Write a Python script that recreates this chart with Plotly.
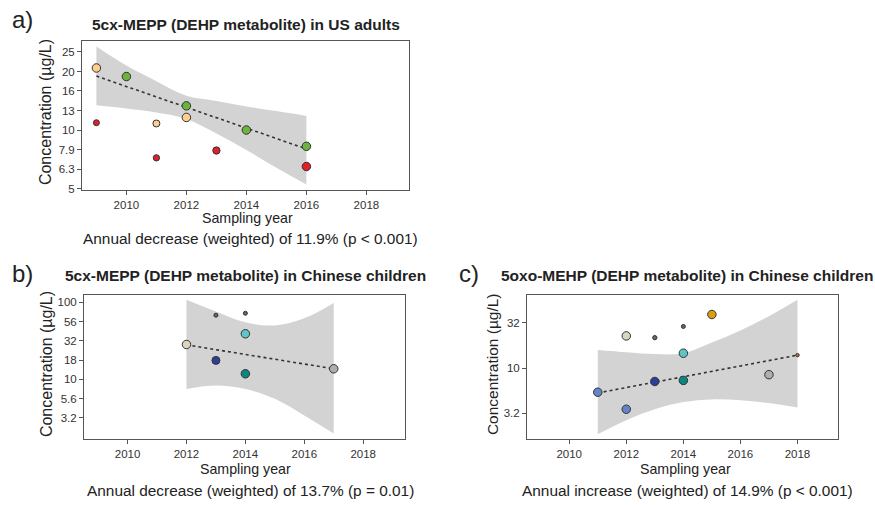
import plotly.graph_objects as go

W, H = 875, 505

# ---------------- DATA ----------------
# Panel a: 5cx-MEPP in US adults
a_years  = [2009, 2010, 2011, 2012, 2012, 2014, 2016, 2009, 2011, 2013, 2016]
a_values = [20.8, 18.8, 10.8, 11.6, 13.3, 10.0, 8.25, 10.9, 7.2, 7.85, 6.5]
a_study  = ["S1", "S2", "S1", "S1", "S2", "S2", "S2", "S3", "S3", "S3", "S3"]
a_trend_years  = [2009, 2016]
a_trend_values = [18.9, 8.0]
a_band_years = [2009, 2010, 2011, 2012, 2013, 2014, 2015, 2016]
a_band_upper = [26.8, 21.4, 17.8, 15.0, 14.1, 13.2, 12.5, 11.8]
a_band_lower = [13.4, 12.9, 12.3, 11.4, 9.6, 7.9, 6.4, 5.25]
a_ytick_vals = [5.012, 6.310, 7.943, 10.0, 12.59, 15.85, 19.95, 25.12]
a_ytick_text = ["5", "6.3", "7.9", "10", "13", "16", "20", "25"]

# Panel b: 5cx-MEPP in Chinese children
b_years  = [2012, 2013, 2014, 2013, 2014, 2014, 2017]
b_values = [28.3, 68.0, 72.0, 17.6, 39.0, 11.8, 13.7]
b_study  = ["C1", "C2", "C2", "C3", "C4", "C5", "C6"]
b_trend_years  = [2012, 2017]
b_trend_values = [28.0, 13.7]
b_band_years = [2012, 2013, 2014, 2015, 2016, 2017]
b_band_upper = [108, 76, 55, 50, 62, 98]
b_band_lower = [7.5, 8.3, 7.5, 5.6, 3.4, 1.98]
b_ytick_vals = [3.162, 5.623, 10.0, 17.78, 31.62, 56.23, 100.0]
b_ytick_text = ["3.2", "5.6", "10", "18", "32", "56", "100"]

# Panel c: 5oxo-MEHP in Chinese children
c_years  = [2011, 2012, 2012, 2013, 2013, 2014, 2014, 2014, 2015, 2017, 2018]
c_values = [5.4, 3.5, 22.7, 21.7, 7.1, 28.9, 14.6, 7.3, 39.2, 8.45, 13.9]
c_study  = ["C7", "C7", "C1", "C2", "C3", "C2", "C4", "C5", "C8", "C6", "C9"]
c_trend_years  = [2011, 2018]
c_trend_values = [5.3, 13.9]
c_band_years = [2011, 2012, 2013, 2014, 2015, 2016, 2017, 2018]
c_band_upper = [15.9, 15.0, 14.3, 14.6, 19.2, 26.0, 37.5, 57.0]
c_band_lower = [1.85, 2.65, 3.5, 4.2, 4.5, 4.4, 4.1, 3.65]
c_ytick_vals = [3.162, 10.0, 31.62]
c_ytick_text = ["3.2", "10", "32"]

x_tick_vals = [2010, 2012, 2014, 2016, 2018]

# ---------------- STYLE ----------------
study_colors = {
    "S1": "#FDCE8E", "S2": "#6DB33F", "S3": "#E3202A",
    "C1": "#DAD5BC", "C2": "#6E625A", "C3": "#2C3E97", "C4": "#5EC6C8",
    "C5": "#0A8780", "C6": "#AEAEAE", "C7": "#6385C8", "C8": "#DB9E0C",
    "C9": "#C9652E",
}
a_sizes = [8.5, 8.5, 7, 8.5, 8.5, 8.5, 8.5, 6, 6.3, 7.3, 8.5]
b_sizes = [8.5, 4, 4, 8, 8.5, 8.5, 8.5]
c_sizes = [8.5, 8.5, 8.5, 4.3, 8.5, 4, 8.5, 8.5, 8.5, 8.5, 3.4]

FONT = "Liberation Sans, Arial, sans-serif"
BAND = "rgb(211,211,211)"

fig = go.Figure()

panels = [
    ("x", "y", a_years, a_values, a_study, a_sizes, a_trend_years, a_trend_values,
     a_band_years, a_band_upper, a_band_lower),
    ("x2", "y2", b_years, b_values, b_study, b_sizes, b_trend_years, b_trend_values,
     b_band_years, b_band_upper, b_band_lower),
    ("x3", "y3", c_years, c_values, c_study, c_sizes, c_trend_years, c_trend_values,
     c_band_years, c_band_upper, c_band_lower),
]

for xa, ya, yrs, vals, st, sz, ty, tv, by, bu, bl in panels:
    fig.add_trace(go.Scatter(x=by, y=bl, mode="lines", line=dict(width=0, shape="spline"),
                             xaxis=xa, yaxis=ya, hoverinfo="skip", showlegend=False))
    fig.add_trace(go.Scatter(x=by, y=bu, mode="lines", line=dict(width=0, shape="spline"),
                             fill="tonexty", fillcolor=BAND,
                             xaxis=xa, yaxis=ya, hoverinfo="skip", showlegend=False))
    fig.add_trace(go.Scatter(x=ty, y=tv, mode="lines",
                             line=dict(color="#333333", width=1.6, dash="dot"),
                             xaxis=xa, yaxis=ya, showlegend=False))
    fig.add_trace(go.Scatter(x=yrs, y=vals, mode="markers",
                             marker=dict(color=[study_colors[s] for s in st], size=sz,
                                         opacity=1,
                                         line=dict(color="#333333", width=1)),
                             xaxis=xa, yaxis=ya, showlegend=False))


def px_dom_x(l, r):
    return [l / W, r / W]


def px_dom_y(t, b):
    return [1 - b / H, 1 - t / H]


axis_common = dict(showline=True, mirror=True, linecolor="#555555", linewidth=1,
                   ticks="outside", ticklen=4, tickwidth=1, tickcolor="#555555",
                   showgrid=False, zeroline=False,
                   tickfont=dict(family=FONT, size=11.5, color="#333333"))

xr = [2008.52, 2019.42]
fig.update_layout(
    width=W, height=H, margin=dict(l=0, r=0, t=0, b=0),
    paper_bgcolor="white", plot_bgcolor="white",
    xaxis=dict(domain=px_dom_x(82, 409), range=xr, tickvals=x_tick_vals, anchor="y", **axis_common),
    yaxis=dict(domain=px_dom_y(41, 192), type="log", range=[0.69, 1.458],
               tickvals=a_ytick_vals, ticktext=a_ytick_text, anchor="x", **axis_common),
    xaxis2=dict(domain=px_dom_x(84, 405), range=xr, tickvals=x_tick_vals, anchor="y2", **axis_common),
    yaxis2=dict(domain=px_dom_y(297, 443), type="log", range=[0.219, 2.099],
                tickvals=b_ytick_vals, ticktext=b_ytick_text, anchor="x2", **axis_common),
    xaxis3=dict(domain=px_dom_x(527, 838), range=xr, tickvals=x_tick_vals, anchor="y3", **axis_common),
    yaxis3=dict(domain=px_dom_y(297, 443), type="log", range=[0.209, 1.813],
                tickvals=c_ytick_vals, ticktext=c_ytick_text, anchor="x3", **axis_common),
)


def ann(text, x, y, size, bold=False, angle=0, color="#222222"):
    t = f"<b>{text}</b>" if bold else text
    fig.add_annotation(text=t, x=x / W, y=1 - y / H, xref="paper", yref="paper",
                       xanchor="center", yanchor="middle", showarrow=False, textangle=angle,
                       font=dict(family=FONT, size=size, color=color))


# panel labels
ann("a)", 22, 20, 24)
ann("b)", 22, 276, 24)
ann("c)", 469, 276, 24)
# titles
ann("5cx-MEPP (DEHP metabolite) in US adults", 246, 25, 15.5, bold=True)
ann("5cx-MEPP (DEHP metabolite) in Chinese children", 245, 278, 15.5, bold=True)
ann("5oxo-MEHP (DEHP metabolite) in Chinese children", 687, 278, 15.5, bold=True)
# x titles
ann("Sampling year", 247, 220, 14.2)
ann("Sampling year", 245, 473, 14.2)
ann("Sampling year", 685, 473, 14.2)
# captions
ann("Annual decrease (weighted) of 11.9% (p < 0.001)", 250, 240, 15.4)
ann("Annual decrease (weighted) of 13.7% (p = 0.01)", 250, 494, 15.4)
ann("Annual increase (weighted) of 14.9% (p < 0.001)", 687, 494, 15.4)
# y titles
ann("Concentration (µg/L)", 45, 113, 16, angle=-90)
ann("Concentration (µg/L)", 46, 367, 16, angle=-90)
ann("Concentration (µg/L)", 492, 367, 15.5, angle=-90)

fig.write_html("out.html", config={"displayModeBar": False},
               post_script="document.body.style.margin='0px';document.body.style.padding='0px';")
